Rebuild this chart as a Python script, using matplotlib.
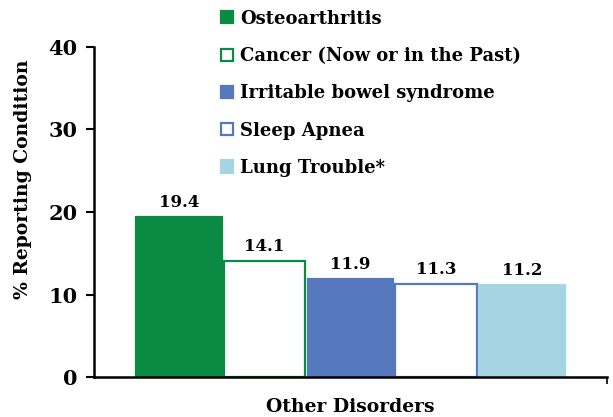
import matplotlib.pyplot as plt
from matplotlib.patches import Patch

plt.rcParams['font.family'] = ['DejaVu Serif']
plt.rcParams['font.weight'] = 'bold'

labels = ['Osteoarthritis', 'Cancer (Now or in the Past)', 'Irritable bowel syndrome',
          'Sleep Apnea', 'Lung Trouble*']
values = [19.4, 14.1, 11.9, 11.3, 11.2]
fills = ['#0a8a43', 'white', '#5578bd', 'white', '#a5d5e2']
edges = ['#0a8a43', '#0a8a43', '#5578bd', '#5578bd', '#a5d5e2']

fig = plt.figure(figsize=(6.13, 4.17), dpi=100)
ax = fig.add_axes([0.1533, 0.0959, 0.8367, 0.7914])

x = list(range(len(values)))
# outlined bars a bit narrower so all four sides show
widths = [1.0 if f != 'white' else 0.95 for f in fills]
ax.bar(x, values, width=widths, color=fills, edgecolor=edges, linewidth=1.6)
for xi, v in zip(x, values):
    ax.annotate(f'{v}', (xi, v), xytext=(0, 4), textcoords='offset points',
                ha='center', va='bottom', fontsize=12, fontweight='bold')

ax.set_xlim(-0.99, 4.99)
ax.set_ylim(0, 40)
ax.set_yticks([0, 10, 20, 30, 40])
ax.set_xticks([4.99])
ax.set_xticklabels([''])
ax.tick_params(axis='y', labelsize=15, width=1.5, length=6, pad=6)
ax.tick_params(axis='x', width=1.2, length=5)
for s in ['top', 'right']:
    ax.spines[s].set_visible(False)
for s in ['left', 'bottom']:
    ax.spines[s].set_linewidth(1.8)
ax.set_ylabel('% Reporting Condition', fontsize=13.5, fontweight='bold')
ax.yaxis.set_label_coords(-0.12, 0.6)
ax.set_xlabel('Other Disorders', fontsize=13.5, fontweight='bold')
ax.xaxis.set_label_coords(0.5, -0.063)

handles = [Patch(facecolor=f, edgecolor=e, linewidth=1.6) for f, e in zip(fills, edges)]
fig.legend(handles, labels, loc='upper left', bbox_to_anchor=(0.352, 0.99), frameon=False,
           fontsize=13, handlelength=0.65, handleheight=0.65, handletextpad=0.4,
           labelspacing=1.07, borderaxespad=0, borderpad=0.3)

fig.savefig('out.png', dpi=100)
